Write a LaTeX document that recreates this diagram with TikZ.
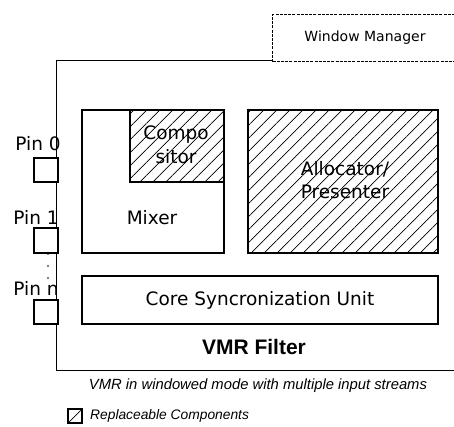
\documentclass[tikz,border=0pt]{standalone}
\usepackage{fontspec}
\setmainfont{DejaVu Sans}
\newfontfamily\arialfont{Liberation Sans}
\usetikzlibrary{patterns.meta}
\tikzset{
  box/.style={draw, line width=1.2pt, inner sep=0pt, fill=white},
  hatched/.style={draw, line width=1.2pt, inner sep=0pt,
    pattern={Lines[angle=45, distance=9.2pt, line width=0.7pt]}},
  pinbox/.style={draw, line width=1.2pt, inner sep=0pt, fill=white, minimum width=24pt},
  lbl/.style={font=\fontsize{18.5}{20}\selectfont, inner sep=0pt, align=center},
  pinlbl/.style={font=\fontsize{18.5}{20}\selectfont, inner sep=0pt},
  dot/.style={circle, fill=black, inner sep=0pt, minimum size=1.6pt},
}
\begin{document}
\begin{tikzpicture}[x=1pt, y=-1pt]
\useasboundingbox (0,0) rectangle (454,426);
\clip (0,0) rectangle (454,426);

% filter frame; its right side runs past the edge
\node[box, minimum width=430pt, minimum height=310pt, fill=none, anchor=north west] (filter) at (56,60) {};

% window manager, drawn on top of the frame's upper edge
\node[draw, fill=white, line width=1.1pt, dash pattern=on 3pt off 1.2pt, inner sep=0pt,
      minimum width=200pt, minimum height=47pt, anchor=north west] (wm) at (272,14) {};
\node[font=\fontsize{14}{16}\selectfont, inner sep=0pt] (wmtext) at (365,38) {Window Manager};

% mixer with the compositor in its corner
\node[box, minimum width=142pt, minimum height=143pt] (mixer) at (153,181.5) {};
\node[lbl] (mixertext) at (152,218) {Mixer};
\node[hatched, minimum width=94pt, minimum height=72pt] (comp) at (177,146) {};
\node[lbl, font=\fontsize{18.5}{24}\selectfont] (comptext) at (176,145) {Compo\\sitor};

% allocator / presenter
\node[hatched, minimum width=190pt, minimum height=143pt] (alloc) at (343,181.5) {};
\node[lbl, font=\fontsize{18.5}{23}\selectfont] (alloctext) at (345,180.5) {Allocator/\\Presenter};

% core unit
\node[box, lbl, minimum width=356pt, minimum height=48pt] (core) at (260,300) {Core Syncronization Unit};

\node[font=\arialfont\bfseries\fontsize{21}{24}\selectfont, inner sep=0pt] (vmr) at (254,347) {VMR Filter};

% input pins
\node[pinbox, minimum height=24pt] (p0) at (46,170) {};
\node[pinbox, minimum height=25pt] (p1) at (46,240.5) {};
\node[pinbox, minimum height=24pt] (pn) at (46,312) {};
\node[pinlbl] (p0l) at (38,144) {Pin 0};
\node[pinlbl] (p1l) at (36,217) {Pin 1};
\node[pinlbl] (pnl) at (36,288) {Pin n};
\node[dot] (d1) at (48,254) {};
\node[dot] (d2) at (48,266) {};
\node[dot] (d3) at (48,278) {};

% caption and legend
\node[font=\arialfont\itshape\fontsize{14.8}{16}\selectfont, inner sep=0pt] (cap) at (258,386) {VMR in windowed mode with multiple input streams};
\node[hatched, line width=1.1pt, minimum width=14pt, minimum height=14pt] (leg) at (75,416) {};
\node[font=\arialfont\itshape\fontsize{13.8}{16}\selectfont, inner sep=0pt, anchor=west] (legtext) at (90,416) {Replaceable Components};
\end{tikzpicture}
\end{document}
